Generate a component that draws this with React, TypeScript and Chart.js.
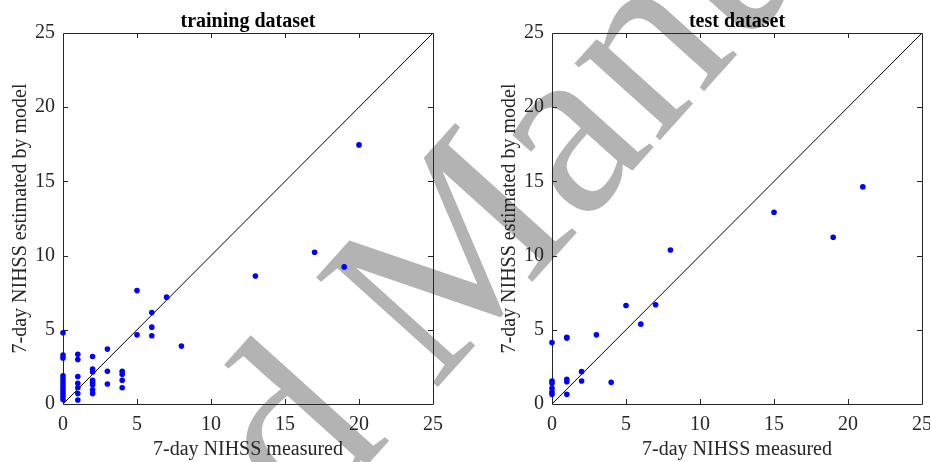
import React, { useEffect, useRef } from "react";
import { Chart, registerables } from "chart.js";

Chart.register(...registerables);

// ---------- data ----------
const AXIS_MIN = 0;
const AXIS_MAX = 25;
const AXIS_STEP = 5;

const trainMeasured = [
  0, 0, 0, 0, 0, 0, 0, 0, 0, 0, 0, 0,
  1, 1, 1, 1, 1, 1, 1,
  2, 2, 2, 2, 2, 2, 2, 2,
  3, 3, 3,
  4, 4, 4, 4,
  5, 5,
  6, 6, 6,
  7, 8, 13, 17, 19, 20,
];
const trainEstimated = [
  4.8, 3.3, 3.1, 1.9, 1.7, 1.5, 1.3, 1.1, 0.9, 0.7, 0.5, 0.3,
  3.35, 3.0, 1.85, 1.4, 1.1, 0.7, 0.27,
  3.2, 2.35, 2.15, 1.6, 1.45, 1.3, 0.95, 0.7,
  3.7, 2.2, 1.35,
  2.2, 2.0, 1.6, 1.1,
  7.64, 4.66,
  6.17, 5.18, 4.6,
  7.2, 3.9, 8.63, 10.23, 9.24, 17.46,
];

const testMeasured = [
  0, 0, 0, 0, 0, 0,
  1, 1, 1, 1, 1,
  2, 2,
  3, 4, 5, 6, 7, 8, 15, 19, 21,
];
const testEstimated = [
  4.14, 1.55, 1.4, 1.06, 0.83, 0.65,
  4.5, 4.44, 1.67, 1.5, 0.65,
  2.18, 1.55,
  4.66, 1.46, 6.64, 5.38, 6.69, 10.38, 12.92, 11.24, 14.63,
];

const identityX = [0, 25];
const identityY = [0, 25];

const TITLE_TRAIN = "training dataset";
const TITLE_TEST = "test dataset";
const X_TITLE = "7-day NIHSS measured";
const Y_TITLE = "7-day NIHSS estimated by model";
const WATERMARK_BEFORE = "Accepte";
const WATERMARK_AFTER = "d Manuscript";

// ---------- styling ----------
const FONT = "'Liberation Serif', 'Times New Roman', serif";
const AXIS_COLOR = "#262626";
const POINT_COLOR = "#0000ff";

const framePlugin = {
  id: "frame",
  beforeDatasetsDraw(chart: any) {
    const { ctx, chartArea } = chart;
    const { left, right, top, bottom } = chartArea;
    const xs = chart.scales.x;
    const ys = chart.scales.y;
    ctx.save();
    ctx.strokeStyle = AXIS_COLOR;
    ctx.lineWidth = 1;
    ctx.beginPath();
    ctx.rect(Math.round(left) + 0.5, Math.round(top) + 0.5, Math.round(right - left), Math.round(bottom - top));
    ctx.stroke();
    const tl = 5;
    ctx.beginPath();
    for (let v = AXIS_MIN + AXIS_STEP; v < AXIS_MAX; v += AXIS_STEP) {
      const px = Math.round(xs.getPixelForValue(v)) + 0.5;
      ctx.moveTo(px, bottom);
      ctx.lineTo(px, bottom - tl);
      ctx.moveTo(px, top);
      ctx.lineTo(px, top + tl);
      const py = Math.round(ys.getPixelForValue(v)) + 0.5;
      ctx.moveTo(left, py);
      ctx.lineTo(left + tl, py);
      ctx.moveTo(right, py);
      ctx.lineTo(right - tl, py);
    }
    ctx.stroke();
    ctx.restore();
  },
  afterDraw(chart: any, _args: any, opts: any) {
    const { ctx, chartArea } = chart;
    ctx.save();
    ctx.fillStyle = "#000";
    ctx.font = `bold 20px ${FONT}`;
    ctx.textAlign = "center";
    ctx.textBaseline = "alphabetic";
    ctx.fillText(opts.text, (chartArea.left + chartArea.right) / 2, 26.5);
    ctx.restore();
  },
};

function makeConfig(title: string, mx: number[], my: number[], padLeft: number, padRight: number): any {
  const points = mx.map((x, i) => ({ x, y: my[i] }));
  const line = identityX.map((x, i) => ({ x, y: identityY[i] }));
  const tickFont = { family: FONT, size: 20 };
  return {
    type: "scatter",
    data: {
      datasets: [
        {
          data: points,
          backgroundColor: POINT_COLOR,
          borderWidth: 0,
          pointRadius: 2.8,
          clip: false,
        },
        {
          type: "line",
          data: line,
          showLine: true,
          borderColor: "#000",
          borderWidth: 1,
          pointRadius: 0,
          fill: false,
        },
      ],
    },
    options: {
      animation: false,
      responsive: false,
      events: [],
      layout: { padding: { left: padLeft, right: padRight, top: 33, bottom: 0 } },
      plugins: {
        legend: { display: false },
        tooltip: { enabled: false },
        title: { display: false },
        frame: { text: title },
      },
      scales: {
        x: {
          type: "linear",
          min: AXIS_MIN,
          max: AXIS_MAX,
          ticks: { stepSize: AXIS_STEP, padding: 9, color: AXIS_COLOR, font: tickFont, maxRotation: 0 },
          grid: { display: false, drawTicks: false },
          border: { display: false },
          title: { display: true, text: X_TITLE, color: AXIS_COLOR, font: tickFont, padding: { top: 0, bottom: 0 } },
          afterFit: (s: any) => {
            s.height = 58;
            s.paddingLeft = 0;
            s.paddingRight = 0;
          },
        },
        y: {
          type: "linear",
          min: AXIS_MIN,
          max: AXIS_MAX,
          ticks: { stepSize: AXIS_STEP, padding: 8, color: AXIS_COLOR, font: tickFont },
          grid: { display: false, drawTicks: false },
          border: { display: false },
          title: { display: true, text: Y_TITLE, color: AXIS_COLOR, font: tickFont, padding: { top: 9, bottom: 0 } },
          afterFit: (s: any) => {
            s.width = 63;
            s.paddingTop = 0;
            s.paddingBottom = 0;
          },
        },
      },
    },
    plugins: [framePlugin],
  };
}

function Panel(props: { title: string; mx: number[]; my: number[]; padLeft: number; padRight: number; left: number }) {
  const ref = useRef<HTMLCanvasElement | null>(null);
  useEffect(() => {
    if (!ref.current) return;
    const chart = new Chart(ref.current, makeConfig(props.title, props.mx, props.my, props.padLeft, props.padRight));
    return () => chart.destroy();
  }, []);
  return (
    <canvas
      ref={ref}
      width={465}
      height={462}
      style={{ position: "absolute", left: props.left, top: 0, width: 465, height: 462, zIndex: 1 }}
    />
  );
}

export default function App() {
  const wmFont: React.CSSProperties = {
    position: "absolute",
    bottom: 0,
    whiteSpace: "nowrap",
    fontFamily: FONT,
    fontSize: 250,
    lineHeight: 1,
    color: "#b3b3b3",
  };
  return (
    <div
      style={{
        position: "absolute",
        left: 0,
        top: 0,
        width: 931,
        height: 462,
        overflow: "hidden",
        background: "#fff",
      }}
    >
      <div
        style={{
          position: "absolute",
          left: 338,
          top: 559,
          width: 0,
          height: 0,
          transform: "rotate(-48deg)",
          transformOrigin: "0 0",
          zIndex: 0,
        }}
      >
        <span style={{ ...wmFont, right: 0 }}>{WATERMARK_BEFORE}</span>
        <span style={{ ...wmFont, left: 0 }}>{WATERMARK_AFTER}</span>
      </div>
      <Panel title={TITLE_TRAIN} mx={trainMeasured} my={trainEstimated} padLeft={0} padRight={32} left={0} />
      <Panel title={TITLE_TEST} mx={testMeasured} my={testEstimated} padLeft={24} padRight={8} left={465} />
    </div>
  );
}
